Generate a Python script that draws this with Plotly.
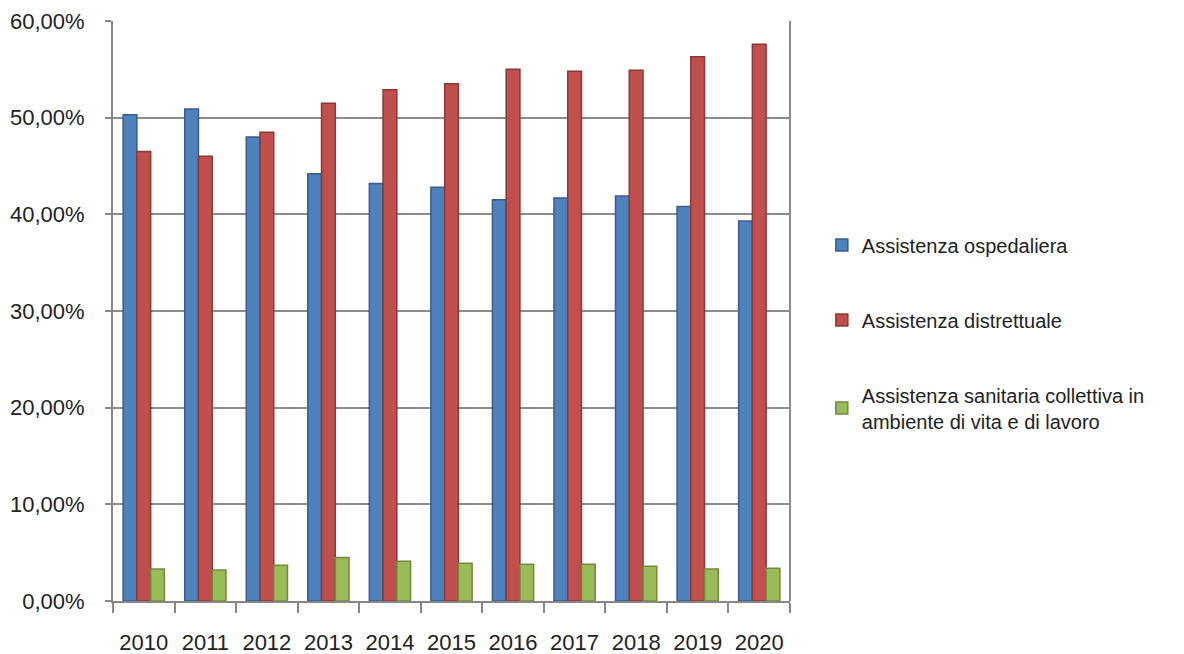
import plotly.graph_objects as go

years = ["2010", "2011", "2012", "2013", "2014", "2015", "2016", "2017", "2018", "2019", "2020"]
ospedaliera = [50.3, 50.9, 48.0, 44.2, 43.2, 42.8, 41.5, 41.7, 41.9, 40.8, 39.3]
distrettuale = [46.5, 46.0, 48.5, 51.5, 52.9, 53.5, 55.0, 54.8, 54.9, 56.3, 57.6]
collettiva = [3.3, 3.2, 3.7, 4.5, 4.1, 3.9, 3.8, 3.8, 3.6, 3.3, 3.4]

names = ["Assistenza ospedaliera", "Assistenza distrettuale",
         "Assistenza sanitaria collettiva in<br>ambiente di vita e di lavoro"]
colors = ["#4F81BD", "#C0504D", "#9BBB59"]
sides = ["#385D8A", "#8C3836", "#71893F"]
tickvals = [0, 10, 20, 30, 40, 50, 60]
ticktext = ["0,00%", "10,00%", "20,00%", "30,00%", "40,00%", "50,00%", "60,00%"]

fig = go.Figure()
for i, (vals, name, c, s) in enumerate(zip([ospedaliera, distrettuale, collettiva], names, colors, sides)):
    fig.add_trace(go.Bar(x=years, y=vals, name=name, legendgroup=f"g{i}",
                         marker=dict(color=c, line=dict(color=s, width=1.5))))

font = "Liberation Sans, Arial, sans-serif"
fig.update_layout(
    width=1184, height=654,
    margin=dict(l=113, r=394, t=21, b=53),
    paper_bgcolor="white", plot_bgcolor="white",
    barmode="group", bargap=0.33, bargroupgap=0,
    font=dict(family=font, size=22, color="#222222"),
    showlegend=True,
    legend=dict(x=1.047, xanchor="left", y=0.462, yanchor="middle",
                font=dict(size=20, family=font, color="#222222"),
                tracegroupgap=46, itemwidth=30, traceorder="grouped"),
    xaxis=dict(showgrid=False, showline=True, linecolor="#878787", linewidth=2,
               ticks="outside", tickson="boundaries", ticklen=10, tickcolor="#878787",
               tickwidth=2, ticklabelstandoff=21, tickfont=dict(size=22), automargin=False),
    yaxis=dict(range=[0, 60], tickvals=tickvals, ticktext=ticktext,
               showgrid=True, gridcolor="#8C8C8C", gridwidth=2,
               showline=True, linecolor="#878787", linewidth=2,
               ticks="outside", ticklen=6, tickcolor="#878787", tickwidth=2,
               ticklabelstandoff=16, tickfont=dict(size=22), zeroline=False,
               automargin=False),
)
# right edge of the back wall
fig.add_shape(type="line", xref="paper", yref="paper", x0=1, x1=1, y0=0, y1=1,
              line=dict(color="#8C8C8C", width=2))

fig.write_html("out.html")
